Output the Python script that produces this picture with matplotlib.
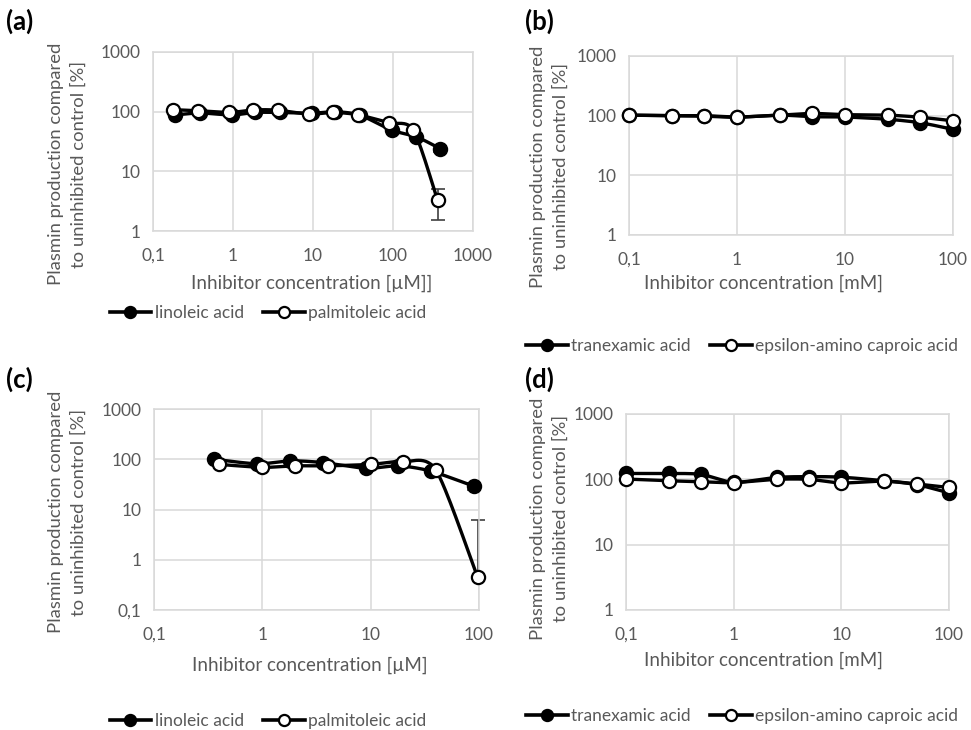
import numpy as np
import matplotlib
matplotlib.use("Agg")
import matplotlib.pyplot as plt
from matplotlib.ticker import FixedLocator, FuncFormatter, NullLocator
from matplotlib.lines import Line2D

# ---------------- data ----------------
# (a) fatty acids, µM
a_lin_x = [0.19, 0.39, 0.96, 1.9, 3.9, 9.6, 19, 39, 96, 195, 390]
a_lin_y = [88, 95, 88, 97, 97, 94, 100, 87, 49, 38, 24]
a_pal_x = [0.18, 0.36, 0.9, 1.8, 3.6, 9, 18, 36, 90, 180, 360]
a_pal_y = [108, 104, 97, 107, 106, 91, 97, 89, 65, 49, 3.3]
a_lin_err = {10: (3, 3)}
a_pal_err = {10: (1.8, 1.7)}

# (b) lysine analogues, mM
b_x = [0.1, 0.25, 0.5, 1, 2.5, 5, 10, 25, 50, 100]
b_tra_y = [102, 100, 98, 94, 102, 96, 95, 87, 76, 59]
b_eac_y = [102, 100, 100, 95, 102, 109, 104, 102, 94, 82]

# (c) fatty acids, µM
c_lin_x = [0.36, 0.9, 1.8, 3.6, 9, 18, 36, 90]
c_lin_y = [100, 81, 93, 86, 66, 74, 58, 29]
c_pal_x = [0.4, 1, 2, 4, 10, 20, 40, 97]
c_pal_y = [79, 69, 74, 74, 79, 90, 61, 0.45]
c_lin_err = {7: (4, 4)}
c_pal_err = {7: (0, 5.85)}

# (d) lysine analogues, mM
d_x = [0.1, 0.25, 0.5, 1, 2.5, 5, 10, 25, 50, 100]
d_tra_y = [123, 123, 119, 90, 107, 110, 108, 95, 83, 62]
d_eac_y = [101, 95, 92, 89, 100, 100, 88, 94, 85, 75]

panel_labels = ["(a)", "(b)", "(c)", "(d)"]
ylabel_text = "Plasmin production compared\nto uninhibited control [%]"
xlabels = ["Inhibitor concentration [µM]]", "Inhibitor concentration [mM]",
           "Inhibitor concentration [µM]", "Inhibitor concentration [mM]"]
names_fa = ["linoleic acid", "palmitoleic acid"]
names_ly = ["tranexamic acid", "epsilon-amino caproic acid"]

# ---------------- style ----------------
W, H = 971, 730
plt.rcParams['font.family'] = ['Lato', 'DejaVu Sans']
GRAY_TXT = "#595959"
GRID = "#d9d9d9"
FS = 12.5

fig = plt.figure(figsize=(W / 100, H / 100), dpi=100)


def rect(l, t, r, b):
    return [l / W, 1 - b / H, (r - l) / W, (b - t) / H]


def fx(x):
    return x / W


def fy(y):
    return 1 - y / H


def smooth(xs, ys, n=30):
    """Excel-like smoothed line (Catmull-Rom Bezier) in log-log space."""
    P = np.column_stack([np.log10(xs), np.log10(ys)])
    m = len(P)
    ext = np.vstack([P[0], P, P[-1]])
    out = [P[0]]
    t = np.linspace(0, 1, n)[1:, None]
    k = 1 / 7.5
    for i in range(m - 1):
        p0, p1, p2, p3 = ext[i], ext[i + 1], ext[i + 2], ext[i + 3]
        b1 = p1 + (p2 - p0) * k
        b2 = p2 - (p3 - p1) * k
        seg = ((1 - t) ** 3) * p1 + 3 * ((1 - t) ** 2) * t * b1 + 3 * (1 - t) * t ** 2 * b2 + t ** 3 * p2
        out.extend(seg)
    out = np.array(out)
    return 10 ** out[:, 0], 10 ** out[:, 1]


def comma(v, pos):
    s = ("%g" % v)
    return s.replace(".", ",")


def setup(ax, xlim, ylim):
    ax.set_xscale("log")
    ax.set_yscale("log")
    ax.set_xlim(*xlim)
    ax.set_ylim(*ylim)
    xt = [10.0 ** k for k in range(int(round(np.log10(xlim[0]))), int(round(np.log10(xlim[1]))) + 1)]
    yt = [10.0 ** k for k in range(int(round(np.log10(ylim[0]))), int(round(np.log10(ylim[1]))) + 1)]
    ax.xaxis.set_major_locator(FixedLocator(xt))
    ax.yaxis.set_major_locator(FixedLocator(yt))
    ax.xaxis.set_minor_locator(NullLocator())
    ax.yaxis.set_minor_locator(NullLocator())
    ax.xaxis.set_major_formatter(FuncFormatter(comma))
    ax.yaxis.set_major_formatter(FuncFormatter(comma))
    ax.grid(True, color=GRID, lw=1.1)
    for s in ax.spines.values():
        s.set_color(GRID)
        s.set_linewidth(1.1)
    ax.tick_params(length=0, labelsize=FS, labelcolor=GRAY_TXT, pad=9)
    ax.tick_params(axis='x', pad=12)
    ax.set_axisbelow(True)


def series(ax, xs, ys, filled, err=None):
    sx, sy = smooth(xs, ys)
    ax.plot(sx, sy, color="black", lw=2.4, zorder=3, clip_on=False)
    if err:
        for i, (lo, hi) in err.items():
            eb = ax.errorbar([xs[i]], [ys[i]], yerr=[[lo], [hi]], fmt="none",
                             ecolor="#404040", elinewidth=1.2, capsize=5, capthick=1.2, zorder=2.5)
            for art in eb.lines[1] + eb.lines[2]:
                art.set_clip_on(False)
    ax.plot(xs, ys, ls="none", marker="o", ms=9.5,
            mfc="black" if filled else "white", mec="black", mew=1.6, zorder=4, clip_on=False)


def legend(ax, names, cx, cy):
    h = [Line2D([], [], color="black", lw=2.6, marker="o", ms=8, mfc="black", mec="black", mew=1.6),
         Line2D([], [], color="black", lw=2.6, marker="o", ms=8, mfc="white", mec="black", mew=1.6)]
    ax.legend(h, names, loc="center", bbox_to_anchor=(fx(cx), fy(cy)), bbox_transform=fig.transFigure,
              ncol=2, frameon=False, fontsize=FS, handlelength=2.4, handletextpad=0.2,
              columnspacing=1.1, labelcolor=GRAY_TXT)


# panel geometry in pixels: (left, top, right, bottom)
geo = [(153, 52, 473, 231), (629, 56, 953, 235), (154, 409, 479, 610), (626, 414, 949, 610)]
axes = [fig.add_axes(rect(*g)) for g in geo]

# (a)
ax = axes[0]
setup(ax, (0.1, 1000), (1, 1000))
series(ax, a_lin_x, a_lin_y, True, a_lin_err)
series(ax, a_pal_x, a_pal_y, False, a_pal_err)
legend(ax, names_fa, 268, 313)

# (b)
ax = axes[1]
setup(ax, (0.1, 100), (1, 1000))
series(ax, b_x, b_tra_y, True)
series(ax, b_x, b_eac_y, False)
legend(ax, names_ly, 742, 346)

# (c)
ax = axes[2]
setup(ax, (0.1, 100), (0.1, 1000))
series(ax, c_lin_x, c_lin_y, True, c_lin_err)
series(ax, c_pal_x, c_pal_y, False, c_pal_err)
legend(ax, names_fa, 268, 721)

# (d)
ax = axes[3]
setup(ax, (0.1, 100), (1, 1000))
series(ax, d_x, d_tra_y, True)
series(ax, d_x, d_eac_y, False)
legend(ax, names_ly, 742, 716)

# axis titles
xl_pos = [(312, 283), (764, 283), (310, 665), (764, 660)]
yl_pos = [(67, 164), (549, 167), (67, 512), (549, 519)]
pl_pos = [(6, 21), (525, 21), (6, 379), (525, 379)]
for i in range(4):
    fig.text(fx(xl_pos[i][0]), fy(xl_pos[i][1]), xlabels[i], ha="center", va="center",
             fontsize=FS + 1, color=GRAY_TXT)
    fig.text(fx(yl_pos[i][0]), fy(yl_pos[i][1]), ylabel_text, ha="center", va="center",
             rotation=90, multialignment="center", fontsize=FS + 0.8, color=GRAY_TXT, linespacing=1.5)
    fig.text(fx(pl_pos[i][0]), fy(pl_pos[i][1]), panel_labels[i], ha="left", va="center",
             fontsize=18.5, fontweight="bold", color="black")

fig.savefig("out.png", dpi=100)
